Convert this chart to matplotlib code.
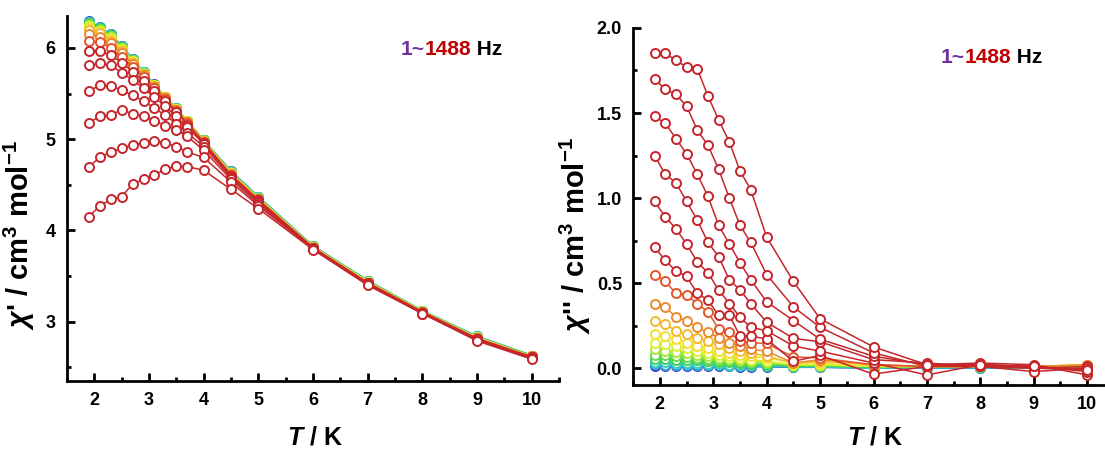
import numpy as np
import matplotlib
matplotlib.use("Agg")
import matplotlib.pyplot as plt
from matplotlib.ticker import MultipleLocator, FormatStrFormatter

plt.rcParams['font.family'] = ['Liberation Sans', 'DejaVu Sans']
plt.rcParams['font.weight'] = 'bold'
plt.rcParams['mathtext.fontset'] = 'custom'
plt.rcParams['mathtext.rm'] = 'Liberation Sans:bold'
plt.rcParams['mathtext.bf'] = 'Liberation Sans:bold'
plt.rcParams['mathtext.it'] = 'Liberation Sans:italic:bold'

# temperatures (K)
T = [1.9, 2.1, 2.3, 2.5, 2.7, 2.9, 3.1, 3.3, 3.5, 3.7, 4.0, 4.5, 5, 6, 7, 8, 9, 10]

# 17 frequencies, 1488 Hz first ... 1 Hz last
colors = ['#C4262B', '#C4262B', '#C4262B', '#C4262B', '#C4262B', '#C4262B',
          '#E2562A', '#EA8A2C', '#F2B92E', '#F4DE30', '#DDF030', '#A6EA38',
          '#66DD44', '#3FCF5C', '#35D0B8', '#30A8E0', '#3040C0']

# chi' (in-phase)
chi1 = [
    [4.15, 4.27, 4.34, 4.37, 4.51, 4.56, 4.61, 4.67, 4.71, 4.70, 4.66, 4.45, 4.24, 3.79, 3.40, 3.09, 2.79, 2.59],
    [4.70, 4.80, 4.86, 4.90, 4.94, 4.96, 4.98, 4.96, 4.92, 4.86, 4.80, 4.53, 4.27, 3.80, 3.41, 3.09, 2.80, 2.60],
    [5.18, 5.25, 5.27, 5.32, 5.28, 5.25, 5.20, 5.15, 5.10, 5.03, 4.88, 4.56, 4.29, 3.80, 3.41, 3.10, 2.80, 2.60],
    [5.53, 5.59, 5.58, 5.54, 5.48, 5.42, 5.34, 5.26, 5.17, 5.07, 4.92, 4.58, 4.31, 3.80, 3.42, 3.10, 2.81, 2.61],
    [5.81, 5.83, 5.81, 5.73, 5.65, 5.56, 5.46, 5.36, 5.25, 5.13, 4.95, 4.59, 4.32, 3.81, 3.42, 3.10, 2.81, 2.61],
    [5.97, 5.97, 5.92, 5.84, 5.74, 5.64, 5.53, 5.42, 5.30, 5.16, 4.96, 4.60, 4.33, 3.81, 3.42, 3.10, 2.81, 2.61],
    [6.08, 6.06, 6.00, 5.90, 5.79, 5.68, 5.56, 5.44, 5.31, 5.18, 4.97, 4.61, 4.34, 3.81, 3.43, 3.11, 2.82, 2.61],
    [6.15, 6.12, 6.05, 5.94, 5.82, 5.70, 5.57, 5.45, 5.32, 5.19, 4.97, 4.62, 4.34, 3.81, 3.43, 3.11, 2.82, 2.62],
    [6.20, 6.16, 6.08, 5.97, 5.84, 5.71, 5.58, 5.46, 5.32, 5.19, 4.98, 4.62, 4.35, 3.82, 3.43, 3.11, 2.82, 2.62],
    [6.22, 6.18, 6.10, 5.98, 5.85, 5.72, 5.58, 5.46, 5.33, 5.19, 4.98, 4.63, 4.35, 3.82, 3.44, 3.11, 2.82, 2.62],
    [6.24, 6.19, 6.11, 5.99, 5.86, 5.72, 5.59, 5.46, 5.33, 5.20, 4.98, 4.63, 4.35, 3.82, 3.44, 3.11, 2.83, 2.62],
    [6.25, 6.20, 6.12, 6.00, 5.86, 5.73, 5.59, 5.46, 5.33, 5.20, 4.98, 4.63, 4.36, 3.82, 3.44, 3.12, 2.83, 2.62],
    [6.26, 6.21, 6.13, 6.00, 5.87, 5.73, 5.59, 5.46, 5.33, 5.20, 4.99, 4.64, 4.36, 3.82, 3.44, 3.12, 2.83, 2.63],
    [6.27, 6.22, 6.14, 6.01, 5.87, 5.73, 5.59, 5.46, 5.34, 5.20, 4.99, 4.64, 4.36, 3.83, 3.45, 3.12, 2.83, 2.63],
    [6.28, 6.22, 6.14, 6.01, 5.87, 5.74, 5.59, 5.46, 5.34, 5.20, 4.99, 4.64, 4.37, 3.83, 3.45, 3.12, 2.84, 2.63],
    [6.28, 6.23, 6.15, 6.02, 5.88, 5.74, 5.59, 5.46, 5.34, 5.20, 4.99, 4.65, 4.37, 3.83, 3.45, 3.12, 2.84, 2.63],
    [6.29, 6.23, 6.15, 6.02, 5.88, 5.74, 5.60, 5.46, 5.34, 5.20, 4.99, 4.65, 4.37, 3.83, 3.45, 3.12, 2.84, 2.63],
]

# chi'' (out-of-phase)
chi2 = [
    [1.85, 1.85, 1.81, 1.77, 1.76, 1.60, 1.46, 1.33, 1.16, 1.05, 0.77, 0.51, 0.29, 0.125, 0.02, 0.02, 0.01, -0.01],
    [1.70, 1.64, 1.61, 1.54, 1.40, 1.31, 1.17, 1.00, 0.84, 0.74, 0.55, 0.36, 0.24, 0.09, 0.01, 0.02, 0.01, -0.02],
    [1.48, 1.44, 1.35, 1.26, 1.14, 1.01, 0.84, 0.73, 0.62, 0.52, 0.39, 0.28, 0.17, 0.07, 0.02, 0.03, 0.02, -0.04],
    [1.25, 1.14, 1.09, 0.98, 0.87, 0.74, 0.655, 0.52, 0.46, 0.38, 0.27, 0.175, 0.155, 0.05, 0.03, 0.01, -0.02, 0.0],
    [0.98, 0.89, 0.82, 0.73, 0.625, 0.56, 0.46, 0.38, 0.30, 0.24, 0.22, 0.13, 0.10, 0.03, -0.04, 0.02, 0.0, 0.01],
    [0.71, 0.635, 0.57, 0.54, 0.44, 0.40, 0.31, 0.31, 0.19, 0.19, 0.17, 0.04, 0.075, -0.035, 0.01, 0.01, 0.0, -0.01],
    [0.55, 0.51, 0.44, 0.43, 0.38, 0.33, 0.23, 0.21, 0.16, 0.15, 0.145, 0.066, 0.06, 0.02, 0.01, 0.01, 0.0, 0.0],
    [0.38, 0.36, 0.30, 0.28, 0.24, 0.21, 0.18, 0.15, 0.13, 0.11, 0.10, 0.03, 0.05, 0.02, 0.01, 0.01, 0.01, 0.02],
    [0.28, 0.26, 0.22, 0.20, 0.18, 0.16, 0.14, 0.12, 0.10, 0.09, 0.07, 0.03, 0.04, 0.02, 0.01, 0.01, 0.01, 0.02],
    [0.20, 0.19, 0.17, 0.15, 0.13, 0.12, 0.10, 0.09, 0.08, 0.07, 0.06, 0.03, 0.03, 0.01, 0.01, 0.01, 0.01, 0.02],
    [0.15, 0.14, 0.13, 0.12, 0.10, 0.09, 0.08, 0.07, 0.06, 0.05, 0.04, 0.02, 0.02, 0.01, 0.01, 0.01, 0.01, 0.01],
    [0.11, 0.10, 0.095, 0.09, 0.08, 0.07, 0.06, 0.055, 0.05, 0.04, 0.035, 0.02, 0.02, 0.01, 0.01, 0.01, 0.01, 0.01],
    [0.08, 0.075, 0.07, 0.065, 0.06, 0.055, 0.05, 0.045, 0.04, 0.035, 0.03, 0.015, 0.015, 0.01, 0.01, 0.005, 0.01, 0.01],
    [0.055, 0.055, 0.05, 0.045, 0.045, 0.04, 0.035, 0.035, 0.03, 0.025, 0.02, 0.01, 0.01, 0.005, 0.005, 0.005, 0.005, 0.005],
    [0.035, 0.035, 0.03, 0.03, 0.03, 0.025, 0.025, 0.02, 0.02, 0.02, 0.015, 0.01, 0.01, 0.0, 0.005, 0.005, 0.0, 0.005],
    [0.022, 0.02, 0.02, 0.02, 0.018, 0.018, 0.016, 0.015, 0.014, 0.013, 0.01, 0.005, 0.005, 0.0, 0.0, 0.0, 0.0, 0.0],
    [0.012, 0.012, 0.012, 0.011, 0.011, 0.01, 0.01, 0.01, 0.009, 0.009, 0.008, 0.005, 0.005, 0.0, 0.0, 0.0, 0.0, 0.0],
]

fig = plt.figure(figsize=(11.05, 4.51), dpi=100)
ax1 = fig.add_axes([0.0606, 0.155, 0.4454, 0.8095])
ax2 = fig.add_axes([0.573, 0.146, 0.435, 0.792])


def style(ax):
    for s in ['top', 'right']:
        ax.spines[s].set_visible(False)
    for s in ['left', 'bottom']:
        ax.spines[s].set_linewidth(2)
    ax.tick_params(which='major', direction='in', length=6, width=2, labelsize=13, pad=8)
    ax.tick_params(which='minor', direction='in', length=3, width=2)
    ax.xaxis.set_major_locator(MultipleLocator(1))
    ax.xaxis.set_minor_locator(MultipleLocator(0.5))
    ax.set_xlim(1.5, 10.5)


for i in range(len(chi1) - 1, -1, -1):
    ax1.plot(T, chi1[i], '-o', color=colors[i], lw=1.1, ms=6.5,
             mfc='white', mec=colors[i], mew=1.4)
    ax2.plot(T, chi2[i], '-o', color=colors[i], lw=1.1, ms=6.5,
             mfc='white', mec=colors[i], mew=1.4)

style(ax1)
ax1.set_ylim(2.35, 6.35)
ax1.yaxis.set_major_locator(MultipleLocator(1))
ax1.yaxis.set_minor_locator(MultipleLocator(0.5))

style(ax2)
ax2.set_ylim(-0.1, 2.0)
ax2.yaxis.set_major_locator(MultipleLocator(0.5))
ax2.yaxis.set_minor_locator(MultipleLocator(0.25))
ax2.yaxis.set_major_formatter(FormatStrFormatter('%.1f'))

for ax in (ax1, ax2):
    for lab in ax.get_xticklabels() + ax.get_yticklabels():
        lab.set_fontweight('bold')

ax1.set_xlabel('$T$ / K', fontsize=18, fontweight='bold')
ax2.set_xlabel('$T$ / K', fontsize=18, fontweight='bold')
ax1.xaxis.set_label_coords(0.504, -0.121)
ax2.xaxis.set_label_coords(0.503, -0.112)

ax1.set_ylabel("$\\chi$' / cm$^{3}$ mol$^{-1}$", fontsize=21, fontweight='bold')
ax2.set_ylabel("$\\chi$'' / cm$^{3}$ mol$^{-1}$", fontsize=21, fontweight='bold')
ax1.yaxis.set_label_coords(-0.061, 0.40)
ax2.yaxis.set_label_coords(-0.083, 0.42)

for (x, y) in [(0.3625, 0.878), (0.851, 0.860)]:
    a = fig.text(x, y, '1~', color='#7030A0', fontsize=15, fontweight='bold')
    b = plt.annotate('1488', xy=(1, 0), xycoords=a, color='#C00000', fontsize=15,
                     fontweight='bold', va='bottom')
    plt.annotate(' Hz', xy=(1, 0), xycoords=b, color='black', fontsize=15,
                 fontweight='bold', va='bottom')

fig.savefig('out.png', dpi=100)
